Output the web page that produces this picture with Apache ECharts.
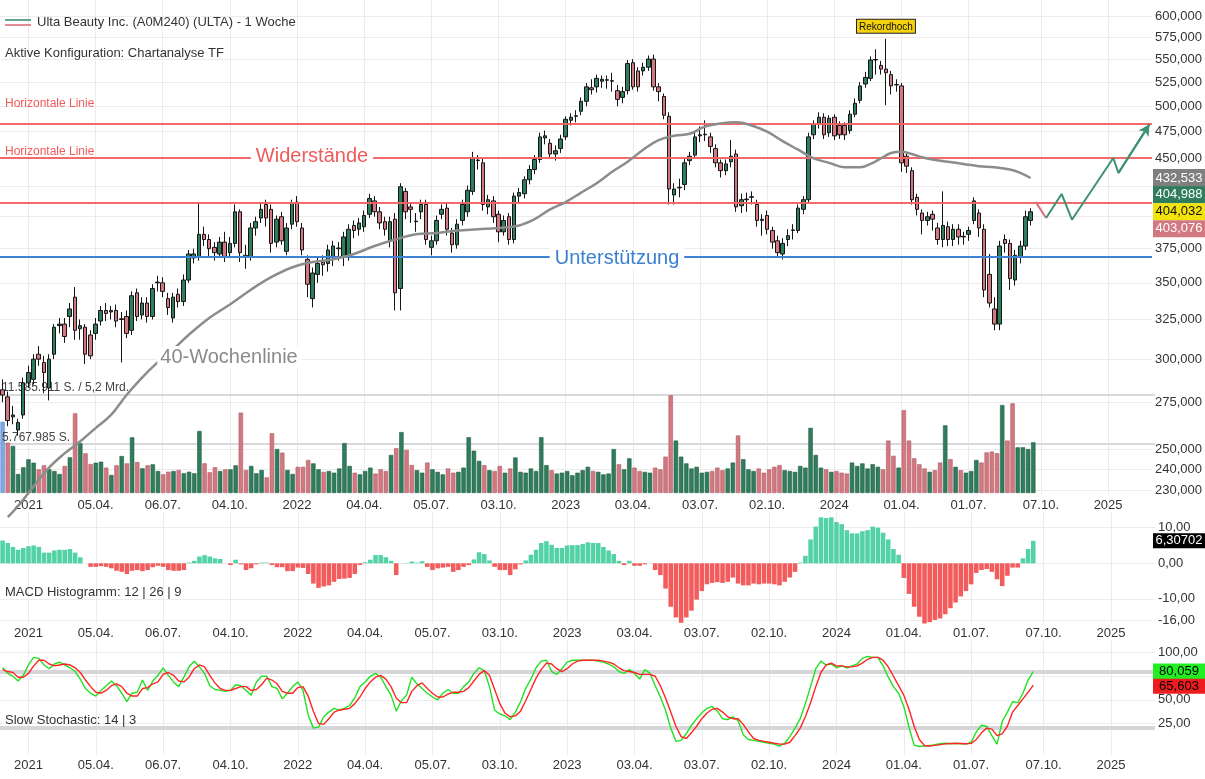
<!DOCTYPE html>
<html>
<head>
<meta charset="utf-8">
<script src="https://cdn.jsdelivr.net/npm/echarts@6/dist/echarts.min.js"></script>
<style>
html, body { margin: 0; padding: 0; background: #fff; }
#chart { width: 1205px; height: 779px; }
</style>
</head>
<body>
<div id="chart"></div>
<script>
// Wochen-Kategorien (Montag), inkl. leerer Zukunft bis Maerz 2025
const startWeek = Date.UTC(2020, 10, 30);
const weekCount = 223;
const weeks = [];
for (let k = 0; k < weekCount; k++) {
  weeks.push(new Date(startWeek + k * 7 * 86400000).toISOString().slice(0, 10));
}

const xTicks = [
  ['2021-01-04', '2021'], ['2021-04-05', '05.04.'], ['2021-07-05', '06.07.'], ['2021-10-04', '04.10.'],
  ['2022-01-03', '2022'], ['2022-04-04', '04.04.'], ['2022-07-04', '05.07.'], ['2022-10-03', '03.10.'],
  ['2023-01-02', '2023'], ['2023-04-03', '03.04.'], ['2023-07-03', '03.07.'], ['2023-10-02', '02.10.'],
  ['2024-01-01', '2024'], ['2024-04-01', '01.04.'], ['2024-07-01', '01.07.'], ['2024-10-07', '07.10.'],
  ['2025-01-06', '2025']
];

const priceTicks = [600, 575, 550, 525, 500, 475, 450, 425, 400, 375, 350, 325, 300, 275, 250, 240, 230];
const macdTicks = [10, 0, -10, -16];
const stochTicks = [100, 75, 50, 25];

// Kerzen (USD)
const opens = [
  282, 278, 267, 260, 268, 286, 288, 303, 298, 283,
  303, 321, 322, 327, 340, 319, 320, 315, 316, 324,
  331, 330, 331, 325, 327, 318, 343, 328, 336, 327,
  350, 350, 339, 326, 342, 337, 352, 368, 369, 386,
  382, 376, 371, 380, 372, 379, 404, 370, 369, 391,
  399, 410, 406, 380, 400, 373, 394, 412, 391, 367,
  339, 356, 365, 364, 369, 375, 369, 370, 393, 390,
  392, 402, 413, 404, 396, 381, 398, 346, 421, 408,
  396, 404, 410, 376, 381, 402, 407, 387, 378, 397,
  404, 421, 448, 446, 408, 413, 402, 388, 400, 382,
  417, 419, 431, 440, 449, 469, 464, 454, 459, 470,
  486, 490, 495, 505, 519, 520, 526, 527, 526, 516,
  509, 516, 546, 537, 537, 541, 550, 520, 510, 490,
  418, 424, 427, 448, 453, 471, 472, 470, 459, 446,
  439, 447, 454, 409, 414, 416, 410, 398, 401, 389,
  381, 371, 382, 389, 389, 406, 414, 472, 483, 489,
  474, 489, 481, 481, 476, 492, 506, 523, 529, 549,
  543, 539, 533, 522, 521, 452, 439, 416, 403, 397,
  402, 391, 382, 392, 382, 390, 384, 386, 397, 403,
  390, 356, 332, 322, 382, 379, 352, 369, 377, 397
];
const closes = [
  279, 265, 268, 264, 286, 292, 300, 300, 292, 300,
  320, 322, 314, 332, 318, 321, 303, 302, 322, 331,
  329, 331, 324, 325.5, 316, 341, 327, 336, 327, 346,
  350.5, 344, 333, 340, 337, 352, 371, 371, 386, 382,
  375, 372, 380, 369, 379, 404, 372, 369, 391, 396,
  406, 399, 379, 398, 381, 391, 411, 396, 374, 349,
  357, 364, 363, 374, 377, 375.5, 384, 390, 389, 395,
  401, 415, 404, 395, 390, 396, 343, 425, 404, 406,
  396.5, 410, 382, 381, 397, 406, 390, 378, 394, 410,
  422, 450, 448.5, 410, 414, 400, 388, 397, 382, 417,
  420, 431, 440, 449, 470, 471, 454, 457, 468, 487,
  489, 490.5, 505, 520, 517, 529, 528, 527.5, 526.5, 507,
  515, 545, 520, 520, 541, 550, 520, 515, 491, 423,
  423, 424.5, 446, 452, 470, 472, 472.5, 461, 446, 439,
  445, 452, 408, 414, 414.5, 416.5, 397, 397, 390, 380,
  372, 379, 385, 389.5, 407, 414, 470, 482, 489, 472,
  488, 471, 472, 472, 492, 503, 521, 530, 549, 549.5,
  539, 535, 521, 522.5, 446, 443, 414, 406, 397, 400,
  398, 382, 393, 382, 390, 384, 384.5, 389, 413, 391,
  345, 336, 322, 377, 379, 353, 370, 377, 400, 404.032
];
const lows = [
  275, 262, 263, 257, 266, 283, 285, 296, 280, 276,
  300, 316, 310, 320, 312, 312, 297, 300, 312, 321,
  324, 325, 320, 298, 313, 315, 324, 325, 323, 325,
  344, 340, 328, 323, 333, 334, 350, 364, 366, 377,
  368, 366, 368, 365, 368, 376, 365, 360, 366, 385,
  395, 392, 372, 376, 378, 370, 390, 392, 370, 340,
  333, 350, 355, 358, 362, 366, 362, 366, 383, 385,
  388, 399, 400, 390, 385, 376, 331, 331, 398, 395,
  388, 398, 378, 370, 378, 398, 385, 372, 375, 393,
  400, 418, 440, 405, 402, 395, 380, 385, 378, 379,
  412, 415, 427, 436, 446, 463, 450, 448, 455, 467,
  481, 484, 491, 500, 512, 514, 519, 518, 515, 500,
  503, 512, 517, 515, 532, 537, 516, 505, 487, 410,
  410, 416, 422, 444, 450, 465, 466, 455, 442, 433,
  435, 442, 404, 403, 404, 410, 392, 385, 386, 375,
  369, 367, 377, 382, 387, 402, 412, 468, 478, 468,
  470, 467, 468, 467, 473, 489, 503, 519, 526, 533,
  533, 501, 512, 515, 438, 437, 410, 401, 386, 393,
  389, 378, 376, 377, 377, 378, 378, 381, 394, 384,
  340, 333, 318, 318, 372, 345, 348, 364, 374, 393
];
const highs = [
  288, 281, 273, 266, 289, 296, 303, 308, 302, 303,
  322, 326, 326, 336, 347, 325, 322, 318, 326, 334,
  336, 334, 335, 330, 331, 344, 346, 340, 340, 349,
  355, 354, 343, 343, 346, 356, 374, 375, 412, 392,
  386, 380, 384, 388, 384, 410, 406, 378, 395, 400,
  412, 414, 410, 401, 404, 395, 414, 417, 395, 370,
  361, 368, 370, 378, 381, 380, 388, 394, 397, 399,
  405, 419, 417, 408, 400, 400, 403, 428, 424, 412,
  403, 414, 414, 385, 401, 410, 411, 391, 398, 414,
  426, 456, 453, 450, 418, 417, 405, 401, 403, 420,
  424, 434, 444, 453, 474, 476, 468, 462, 472, 490,
  493, 496, 509, 524, 528, 533, 532, 532, 535, 522,
  520, 549, 550, 541, 546, 554, 555, 524, 513, 494,
  428, 432, 450, 456, 474, 480, 486, 474, 463, 449,
  449, 467, 458, 419, 420, 421, 414, 402, 405, 392,
  385, 383, 390, 394, 410, 417, 474, 486, 494, 493,
  491, 492, 485, 484, 496, 508, 525, 536, 553, 561,
  548, 573, 537, 528, 524, 456, 442, 419, 406, 404,
  405, 395, 421, 396, 394, 394, 388, 392, 416, 406,
  394, 371, 340, 381, 386, 382, 374, 381, 405, 407
];

// Wochenvolumen in Mio. Stueck
const volumeMio = [
  8.43, 5.95, 5.56, 2.25, 3.04, 3.98, 3.58, 2.8, 3.27, 2.8,
  2.6, 2.25, 3.2, 4.22, 9.42, 5.88, 4.69, 3.43, 3.58, 3.7,
  3.0, 2.13, 3.27, 4.37, 3.5, 6.58, 3.66, 2.92, 3.27, 3.39,
  2.6, 2.21, 2.52, 2.6, 2.72, 2.33, 2.52, 2.33, 7.33, 3.51,
  2.45, 3.04, 2.6, 2.8, 2.8, 3.27, 9.5, 2.72, 3.2, 2.33,
  2.72, 1.85, 7.06, 5.2, 4.77, 2.72, 2.25, 3.1, 3.1, 3.9,
  3.5, 2.8, 2.5, 2.6, 2.4, 2.9, 5.9, 3.2, 2.4, 2.2,
  2.6, 3.0, 2.3, 2.8, 2.6, 4.5, 5.3, 7.2, 5.1, 3.3,
  2.7, 2.4, 3.6, 2.8, 2.5, 2.2, 2.9, 2.4, 2.5, 3.0,
  6.6, 5.0, 3.8, 3.3, 2.7, 2.6, 3.2, 2.4, 2.9, 4.2,
  2.5, 2.4, 2.9, 2.6, 6.6, 3.3, 2.7, 2.3, 2.4, 2.6,
  2.1, 2.4, 2.7, 3.1, 2.6, 2.5, 2.2, 2.3, 5.2, 3.4,
  2.8, 4.1, 3.0, 2.6, 2.5, 2.4, 3.0, 2.8, 4.3, 11.55,
  6.2, 4.3, 3.5, 2.9, 3.1, 2.4, 2.5, 2.6, 3.0, 2.7,
  2.9, 3.6, 6.8, 4.0, 2.8, 2.6, 2.9, 2.4, 2.8, 3.1,
  3.3, 2.7, 2.6, 2.5, 3.2, 3.0, 7.7, 4.5, 3.0, 2.8,
  2.5, 2.6, 2.4, 2.3, 3.6, 3.2, 3.5, 2.9, 3.4, 3.1,
  2.8, 6.2, 4.4, 3.0, 9.8, 6.2, 4.1, 3.4, 2.9, 2.5,
  2.7, 3.6, 8.0, 4.0, 3.1, 2.7, 2.4, 2.6, 3.9, 3.6,
  4.8, 4.9, 4.7, 10.4, 6.2, 10.6, 5.4, 5.4, 5.2, 6.0
];
const volumeMax = 11585911;
const volumeHalf = 5767985;

const ma40 = [
  [1, 218], [3, 223], [6, 232], [9, 241], [12, 248], [15, 254], [18, 261], [21, 268], [24, 279],
  [27, 289], [30, 298], [33, 306], [36, 315], [40, 326], [44, 335], [48, 345], [52, 354], [56, 361],
  [60, 365], [64, 367], [68, 371], [72, 377], [76, 382], [80, 386], [84, 387], [88, 389], [92, 390],
  [96, 391], [100, 393], [103, 398], [106, 406], [109, 412], [112, 420], [115, 428], [118, 438],
  [121, 447], [124, 458], [127, 467], [130, 471], [133, 473], [136, 480], [139, 483], [142, 484],
  [145, 481], [148, 475], [151, 466], [154, 458], [157, 450], [160, 446], [163, 442], [166, 442],
  [168, 445], [170, 450], [172, 455], [174, 456], [176, 454], [178, 451], [180, 449], [183, 447],
  [186, 445], [189, 443], [192, 442], [195, 440], [197, 437], [199, 432.533]
];

// MACD Histogramm 12|26|9
const macdHist = [
  6.4, 5.7, 4.6, 3.8, 4.3, 4.8, 5.0, 4.6, 3.0, 3.0,
  3.6, 3.8, 3.8, 4.0, 3.0, 1.7, 0, -1.0, -1.0, -0.8,
  -1.0, -1.4, -2.1, -2.4, -3.0, -2.1, -1.9, -2.2, -1.9, -1.1,
  -0.7, -1.0, -1.9, -2.1, -2.1, -1.9, 0.2, 0.7, 1.9, 2.3,
  1.9, 1.4, 1.2, 0, -0.5, 1.0, -0.3, -1.9, -1.4, -0.3,
  0.2, 0.2, -0.5, -1.1, -1.1, -2.2, -2.2, -1.2, -1.3, -3.0,
  -5.7, -6.9, -6.5, -6.2, -5.2, -4.4, -4.3, -4.1, -3.0, -0.5,
  0.3, 1.0, 2.3, 2.3, 1.7, 0.7, -3.3, 0, 0.1, 0.5,
  0.2, 0.6, -1.0, -1.9, -1.4, -1.2, -1.0, -2.4, -1.9, -1.0,
  -0.5, 1.1, 3.1, 2.6, 0.8, -1.0, -1.9, -1.9, -3.3, -1.7,
  -0.3, 0.8, 2.4, 3.8, 5.7, 6.2, 5.2, 4.3, 4.3, 5.0,
  5.1, 5.1, 5.4, 5.9, 5.7, 5.7, 4.6, 3.6, 2.6, 0.7,
  -0.5, 0.7, -0.7, -0.7, -0.3, 0, -1.9, -3.3, -7.1, -12.2,
  -15.2, -16.7, -15.2, -13.3, -10.2, -7.8, -5.9, -5.5, -5.3, -5.5,
  -5.2, -4.0, -5.7, -6.2, -6.2, -5.7, -5.9, -5.7, -5.7, -5.9,
  -6.2, -5.2, -4.0, -2.4, 0.2, 2.1, 6.7, 10.3, 12.9, 12.7,
  12.9, 11.6, 11.0, 9.3, 8.4, 8.4, 9.0, 9.3, 10.3, 10.0,
  8.6, 6.7, 4.0, 2.4, -4.1, -8.6, -12.2, -15.0, -16.9, -16.5,
  -15.9, -15.5, -14.3, -12.6, -11.0, -9.3, -7.8, -5.9, -2.7, -1.9,
  -1.6, -2.4, -4.5, -6.4, -3.5, -1.2, -1.2, 1.4, 4.0, 6.30702
];

// Slow Stochastic 14|3
const stochK = [
  84, 78, 75, 70, 76, 87, 95, 94, 87, 83,
  88, 90, 87, 84, 80, 72, 62, 57, 54, 60,
  65, 70, 65, 57, 48, 57, 58, 71, 60, 70,
  76, 84, 76, 69, 64, 74, 85, 91, 85, 78,
  65, 61, 60, 59, 60, 66, 65, 60, 55, 69,
  75, 75, 64, 62, 51, 57, 64, 69, 60, 34,
  20, 21, 32, 37, 41, 39, 41, 44, 52, 64,
  69, 75, 78, 74, 64, 55, 38, 49, 55, 74,
  67, 62, 57, 53, 50, 57, 61, 57, 57, 64,
  69, 78, 84, 81, 64, 39, 35, 33, 29, 37,
  48, 62, 72, 84, 91, 92, 80, 77, 83, 90,
  92, 92, 92, 92, 92, 91, 90, 88, 85, 80,
  78, 82, 78, 72, 82, 78, 65, 53, 39, 20,
  6, 7, 14, 23, 30, 36, 41, 43, 38, 30,
  29, 32, 28, 13, 8, 7, 6, 5, 4, 3,
  1, 4, 11, 20, 30, 46, 64, 83, 91, 87,
  88, 84, 86, 84, 86, 88, 94, 96, 95, 95,
  86, 74, 64, 57, 43, 21, 2, 0.5, 1, 1.5,
  2.5, 3.5, 4, 3.5, 4, 3.5, 3, 5, 16, 23,
  22, 12, 3, 27, 37, 48, 47, 57, 71, 80.059
];
const stochD = [
  82, 80, 79, 74, 74, 78, 86, 92, 92, 88,
  86, 87, 88, 87, 84, 79, 71, 64, 58, 57,
  60, 65, 67, 64, 57, 54, 54, 62, 63, 67,
  69, 77, 79, 76, 70, 69, 74, 83, 87, 85,
  76, 68, 62, 60, 60, 62, 64, 64, 60, 61,
  66, 73, 71, 67, 59, 57, 57, 63, 64, 54,
  38, 25, 24, 30, 37, 39, 40, 41, 46, 53,
  62, 69, 74, 76, 72, 64, 52, 47, 47, 59,
  65, 68, 62, 57, 53, 53, 56, 58, 58, 59,
  63, 70, 77, 81, 76, 61, 46, 36, 32, 33,
  38, 49, 61, 73, 82, 89, 88, 83, 80, 83,
  88, 91, 92, 92, 92, 92, 91, 90, 88, 84,
  81, 80, 79, 77, 77, 77, 75, 65, 52, 37,
  22, 11, 9, 15, 22, 30, 36, 40, 41, 37,
  32, 30, 30, 24, 16, 9, 7, 6, 5, 4,
  3, 3, 5, 12, 20, 32, 47, 64, 79, 87,
  89, 86, 86, 85, 85, 86, 89, 93, 95, 95,
  92, 85, 75, 65, 55, 40, 22, 8, 1.5, 1,
  1.7, 2.5, 3.3, 3.7, 3.8, 3.7, 3.5, 3.8, 8, 15,
  20, 19, 12, 14, 22, 37, 44, 51, 58, 65.603
];

// Zeichnungen im Kurschart
const resistanceLines = [482.4, 452.2, 413.6];
const supportLine = 367.3;
const recordWeek = 171;
const recordHigh = 573;
const projPinkIdx = [200, 202];
const projPinkVal = [412, 399];
const projGreenIdx = [202, 205, 207, 215, 216, 222];
const projGreenVal = [399, 418.8, 397.6, 450.4, 436.9, 482];

const lastMa = 432.533, lastAsk = 404.988, lastPrice = 404.032, lastBid = 403.076;

const FONT = "'Liberation Sans', Arial, Helvetica, sans-serif";
const GREEN = '#2f7d5c', PINK = '#d27880';
const comma = (v, d) => v.toFixed(d).replace('.', ',');
const tickMap = new Map(xTicks);
const showTick = (idx, val) => tickMap.has(val);

const chart = echarts.init(document.getElementById('chart'));

const candleData = opens.map((o, i) => [Math.log(o), Math.log(closes[i]), Math.log(lows[i]), Math.log(highs[i])]);
const volData = volumeMio.map((v, i) => {
  const up = closes[i] >= opens[i];
  const c = i === 0 ? '#7ea7e4' : (up ? GREEN : PINK);
  const b = i === 0 ? '#6a93d0' : (up ? '#225e44' : '#b05c66');
  return { value: v * 1e6, itemStyle: { color: c, borderColor: b, borderWidth: 0.6 } };
});
const macdData = macdHist.map(v => ({ value: v, itemStyle: { color: v >= 0 ? '#53d2a6' : '#f25c5c' } }));

function xAxisFor(g, margin) {
  return {
    type: 'category', gridIndex: g, data: weeks, boundaryGap: true,
    axisLine: { show: false }, axisTick: { show: false }, splitLine: { show: false },
    axisLabel: margin == null ? { show: false } : {
      show: true, interval: showTick, formatter: v => tickMap.get(v),
      color: '#333', fontSize: 13, margin: margin, fontFamily: FONT
    }
  };
}
function yAxisFor(g, min, max, ticks, fmt) {
  return {
    type: 'value', gridIndex: g, position: 'right', min: min, max: max,
    axisLine: { show: false },
    axisTick: { show: false, customValues: ticks },
    axisLabel: { show: true, customValues: ticks, formatter: fmt, color: '#333', fontSize: 13, margin: 3, fontFamily: FONT },
    splitLine: { show: true, lineStyle: { color: '#ececec', width: 1 } }
  };
}
function vGridSeries(g) {
  return {
    type: 'line', xAxisIndex: g, yAxisIndex: g, data: [], silent: true,
    markLine: {
      silent: true, z: 0, symbol: 'none', animation: false, label: { show: false },
      lineStyle: { color: '#ececec', width: 1, type: 'solid' },
      data: xTicks.map(t => ({ xAxis: t[0] }))
    }
  };
}

const option = {
  animation: false,
  textStyle: { fontFamily: FONT },
  grid: [
    { left: 0, right: 50, top: 0, height: 495 },
    { left: 0, right: 50, top: 395, height: 98 },
    { left: 0, right: 50, top: 512, height: 111.5 },
    { left: 0, right: 50, top: 641, height: 114 }
  ],
  xAxis: [xAxisFor(0, 4), xAxisFor(1, null), xAxisFor(2, 3), xAxisFor(3, 4)],
  yAxis: [
    yAxisFor(0, Math.log(228.0), Math.log(619.7), priceTicks.map(Math.log), v => comma(Math.exp(v), 3)),
    { type: 'value', gridIndex: 1, min: 0, max: volumeMax, show: false, splitLine: { show: false } },
    yAxisFor(2, -16.9, 14.4, macdTicks, v => comma(v, 2)),
    yAxisFor(3, -8.5, 112.4, stochTicks, v => comma(v, 2))
  ],
  series: [
    vGridSeries(0), vGridSeries(2), vGridSeries(3),
    {
      type: 'bar', name: 'Volumen', xAxisIndex: 1, yAxisIndex: 1, data: volData, barWidth: 4.4, z: 1,
      markLine: {
        silent: true, symbol: 'none', z: 1,
        lineStyle: { color: '#d9d9dd', width: 2, type: 'solid' },
        label: { show: true, position: 'insideStartTop', distance: [2, 1], color: '#444', fontSize: 12, fontFamily: FONT },
        data: [
          { yAxis: volumeMax, label: { formatter: '11.585.911 S. / 5,2 Mrd.' } },
          { yAxis: volumeHalf, label: { formatter: '5.767.985 S.' } }
        ]
      }
    },
    {
      type: 'candlestick', name: 'ULTA', xAxisIndex: 0, yAxisIndex: 0, data: candleData, barWidth: 4, z: 3,
      itemStyle: { color: GREEN, color0: PINK, borderColor: '#151515', borderColor0: '#151515', borderWidth: 1 },
      markLine: {
        silent: true, symbol: 'none', z: 4, label: { show: false },
        data: resistanceLines.map(v => ({ yAxis: Math.log(v), lineStyle: { color: '#f26262', width: 2.2, type: 'solid', opacity: 0.95 } }))
          .concat([{ yAxis: Math.log(supportLine), lineStyle: { color: '#3f82d4', width: 2.2, type: 'solid' } }])
      },
      markPoint: {
        silent: true, symbol: 'circle', symbolSize: 0,
        label: {
          show: true, position: 'top', distance: 6, formatter: 'Rekordhoch',
          backgroundColor: '#f5d20c', borderColor: '#222', borderWidth: 1, padding: [2, 2, 1, 2],
          color: '#111', fontSize: 10, fontFamily: FONT
        },
        data: [{ coord: [weeks[recordWeek], Math.log(recordHigh)] }]
      }
    },
    {
      type: 'line', name: '40-Wochenlinie', xAxisIndex: 0, yAxisIndex: 0, z: 5, clip: false,
      data: ma40.map(p => [weeks[p[0]], Math.log(p[1])]), smooth: 0.4, symbol: 'none',
      lineStyle: { color: '#8c8c8c', width: 2.5 }
    },
    {
      type: 'line', xAxisIndex: 0, yAxisIndex: 0, z: 6, symbol: 'none',
      data: projPinkIdx.map((k, i) => [weeks[k], Math.log(projPinkVal[i])]),
      lineStyle: { color: '#d9707c', width: 2 }
    },
    {
      type: 'line', xAxisIndex: 0, yAxisIndex: 0, z: 6, symbol: 'none',
      data: projGreenIdx.map((k, i) => [weeks[k], Math.log(projGreenVal[i])]),
      lineStyle: { color: '#3c9272', width: 2 },
      markLine: {
        silent: true, z: 6, label: { show: false },
        symbol: ['none', 'arrow'], symbolSize: [9, 11],
        lineStyle: { color: '#3c9272', width: 2, type: 'solid' },
        data: [[
          { coord: [weeks[projGreenIdx[4]], Math.log(projGreenVal[4])] },
          { coord: [weeks[projGreenIdx[5]], Math.log(projGreenVal[5])] }
        ]]
      }
    },
    {
      type: 'bar', name: 'MACD', xAxisIndex: 2, yAxisIndex: 2, data: macdData, barCategoryGap: '12%'
    },
    {
      type: 'line', xAxisIndex: 3, yAxisIndex: 3, data: [], silent: true,
      markLine: {
        silent: true, symbol: 'none', z: 1, label: { show: false },
        lineStyle: { color: '#d5d5da', width: 4, type: 'solid' },
        data: [{ yAxis: 80 }, { yAxis: 20 }]
      }
    },
    {
      type: 'line', name: '%K', xAxisIndex: 3, yAxisIndex: 3, data: stochK, symbol: 'none', z: 3,
      lineStyle: { color: '#22e022', width: 1.4 }
    },
    {
      type: 'line', name: '%D', xAxisIndex: 3, yAxisIndex: 3, data: stochD, symbol: 'none', z: 3,
      lineStyle: { color: '#ff2424', width: 1.4 }
    }
  ]
};
chart.setOption(option);

// Beschriftungen, an den Achsen verankert
const yAt = (g, v) => chart.convertToPixel({ gridIndex: g }, [0, v])[1];
const yPrice = v => yAt(0, Math.log(v));
const rightX = 1153;

function txt(x, y, text, color, size, align, extra) {
  return {
    type: 'text', x: x, y: y, z: 100,
    style: Object.assign({ text: text, fill: color, font: size + 'px ' + FONT, textAlign: align || 'left', textVerticalAlign: 'middle' }, extra || {})
  };
}
function box(y, h, bg, fg, text) {
  return {
    type: 'group', x: rightX, y: y, z: 100,
    children: [
      { type: 'rect', z: 100, shape: { x: 0, y: -h / 2, width: 52, height: h }, style: { fill: bg } },
      { type: 'text', z: 101, x: 26, y: 0, style: { text: text, fill: fg, font: '13px ' + FONT, textAlign: 'center', textVerticalAlign: 'middle' } }
    ]
  };
}

const yLast = yPrice(lastPrice);
const graphics = [
  { type: 'line', z: 100, shape: { x1: 5, y1: 20, x2: 31, y2: 20 }, style: { stroke: '#3c9272', lineWidth: 1.6 } },
  { type: 'line', z: 100, shape: { x1: 5, y1: 25, x2: 31, y2: 25 }, style: { stroke: '#d9707c', lineWidth: 1.6 } },
  txt(37, 22, 'Ulta Beauty Inc. (A0M240) (ULTA) - 1 Woche', '#333', 13),
  txt(5, 53, 'Aktive Konfiguration: Chartanalyse TF', '#333', 13),
  txt(5, yPrice(resistanceLines[0]) - 20, 'Horizontale Linie', '#f05a5a', 12),
  txt(5, yPrice(resistanceLines[1]) - 4, 'Horizontale Linie', '#f05a5a', 12),
  txt(312, yPrice(resistanceLines[1]), 'Widerstände', '#f05a5a', 20, 'center', { backgroundColor: '#fff', padding: [1, 5] }),
  txt(617, yPrice(supportLine), 'Unterstützung', '#3a7fd0', 20, 'center', { backgroundColor: '#fff', padding: [1, 5] }),
  txt(229, 357, '40-Wochenlinie', '#8a8a8a', 20, 'center', { backgroundColor: '#fff', padding: [1, 3] }),
  txt(5, 592, 'MACD Histogramm: 12 | 26 | 9', '#333', 13),
  txt(5, 720, 'Slow Stochastic: 14 | 3', '#333', 13),
  box(yPrice(lastMa), 18, '#7f7f7f', '#fff', comma(lastMa, 3)),
  box(yLast - 17, 17, '#2f7d5c', '#fff', comma(lastAsk, 3)),
  box(yLast, 17, '#f2e30c', '#111', comma(lastPrice, 3)),
  box(yLast + 17, 17, '#d27880', '#fff', comma(lastBid, 3)),
  box(yAt(2, macdHist[macdHist.length - 1]), 15, '#000', '#fff', comma(macdHist[macdHist.length - 1], 5)),
  box(yAt(3, stochK[stochK.length - 1]), 16, '#22ee22', '#000', comma(stochK[stochK.length - 1], 3)),
  box(yAt(3, stochD[stochD.length - 1]) + 1, 15, '#ee1c1c', '#000', comma(stochD[stochD.length - 1], 3))
];
chart.setOption({ graphic: graphics });
</script>
</body>
</html>
